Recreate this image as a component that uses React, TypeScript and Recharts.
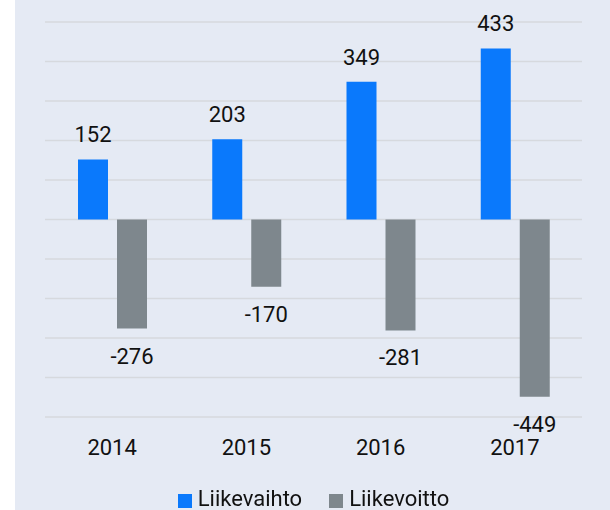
import { BarChart, Bar, XAxis, YAxis, CartesianGrid, Legend, LabelList } from 'recharts'

// ─────────────────────────────────────────
// Liikevaihto / Liikevoitto 2014–2017
// ─────────────────────────────────────────

const years = ['2014', '2015', '2016', '2017']
const liikevaihto = [152, 203, 349, 433]
const liikevoitto = [-276, -170, -281, -449]
const yTicks = [-500, -400, -300, -200, -100, 0, 100, 200, 300, 400, 500]

const data = years.map((year, i) => ({
  year,
  liikevaihto: liikevaihto[i],
  liikevoitto: liikevoitto[i],
}))

const FONT = 'Roboto, sans-serif'
const TEXT = '#111111'
const BLUE = '#0a79fc'
const GRAY = '#7e878d'

// value label: above positive bars, below negative ones
function ValueLabel({ x, y, width, height, value }: any) {
  const top = Math.min(y, y + height)
  const bottom = Math.max(y, y + height)
  const cx = x + width / 2
  const ty = value >= 0 ? top - 17 : bottom + 35
  return (
    <text x={cx} y={ty} textAnchor="middle" fill={TEXT} fontSize={22} fontFamily={FONT}>
      {value}
    </text>
  )
}

function YearTick({ x, y, payload }: any) {
  return (
    <text x={x} y={y + 38} textAnchor="middle" fill={TEXT} fontSize={22} fontFamily={FONT}>
      {payload.value}
    </text>
  )
}

function LegendContent({ payload }: any) {
  return (
    <div style={{ display: 'flex', justifyContent: 'center', gap: 27, fontFamily: FONT, fontSize: 22, color: TEXT, lineHeight: '24px', paddingTop: 1 }}>
      {payload.map((p: any) => (
        <div key={p.value} style={{ display: 'flex', alignItems: 'center', gap: 6 }}>
          <span style={{ width: 14, height: 14, background: p.color, display: 'inline-block', marginTop: 4 }} />
          <span>{p.value}</span>
        </div>
      ))}
    </div>
  )
}

export default function App() {
  return (
    <div style={{ position: 'fixed', left: 0, top: 0, width: 610, height: 510, background: '#fff' }}>
      <div style={{ position: 'absolute', left: 15, top: 0, width: 595, height: 510, background: '#e5eaf4' }}>
        <BarChart
          width={595}
          height={510}
          data={data}
          margin={{ top: 22, right: 28, left: 30, bottom: 0 }}
          barSize={30}
          barGap={9}
        >
          <CartesianGrid vertical={false} stroke="#d6d9de" strokeWidth={1.5} />
          <XAxis
            dataKey="year"
            axisLine={false}
            tickLine={false}
            tickSize={0}
            tickMargin={0}
            height={69}
            tick={<YearTick />}
          />
          <YAxis hide domain={[-500, 500]} ticks={yTicks} />
          <Legend
            verticalAlign="bottom"
            content={<LegendContent />}
            wrapperStyle={{ height: 24 }}
          />
          <Bar dataKey="liikevaihto" name="Liikevaihto" fill={BLUE} isAnimationActive={false}>
            <LabelList dataKey="liikevaihto" content={<ValueLabel />} />
          </Bar>
          <Bar dataKey="liikevoitto" name="Liikevoitto" fill={GRAY} isAnimationActive={false}>
            <LabelList dataKey="liikevoitto" content={<ValueLabel />} />
          </Bar>
        </BarChart>
      </div>
    </div>
  )
}
